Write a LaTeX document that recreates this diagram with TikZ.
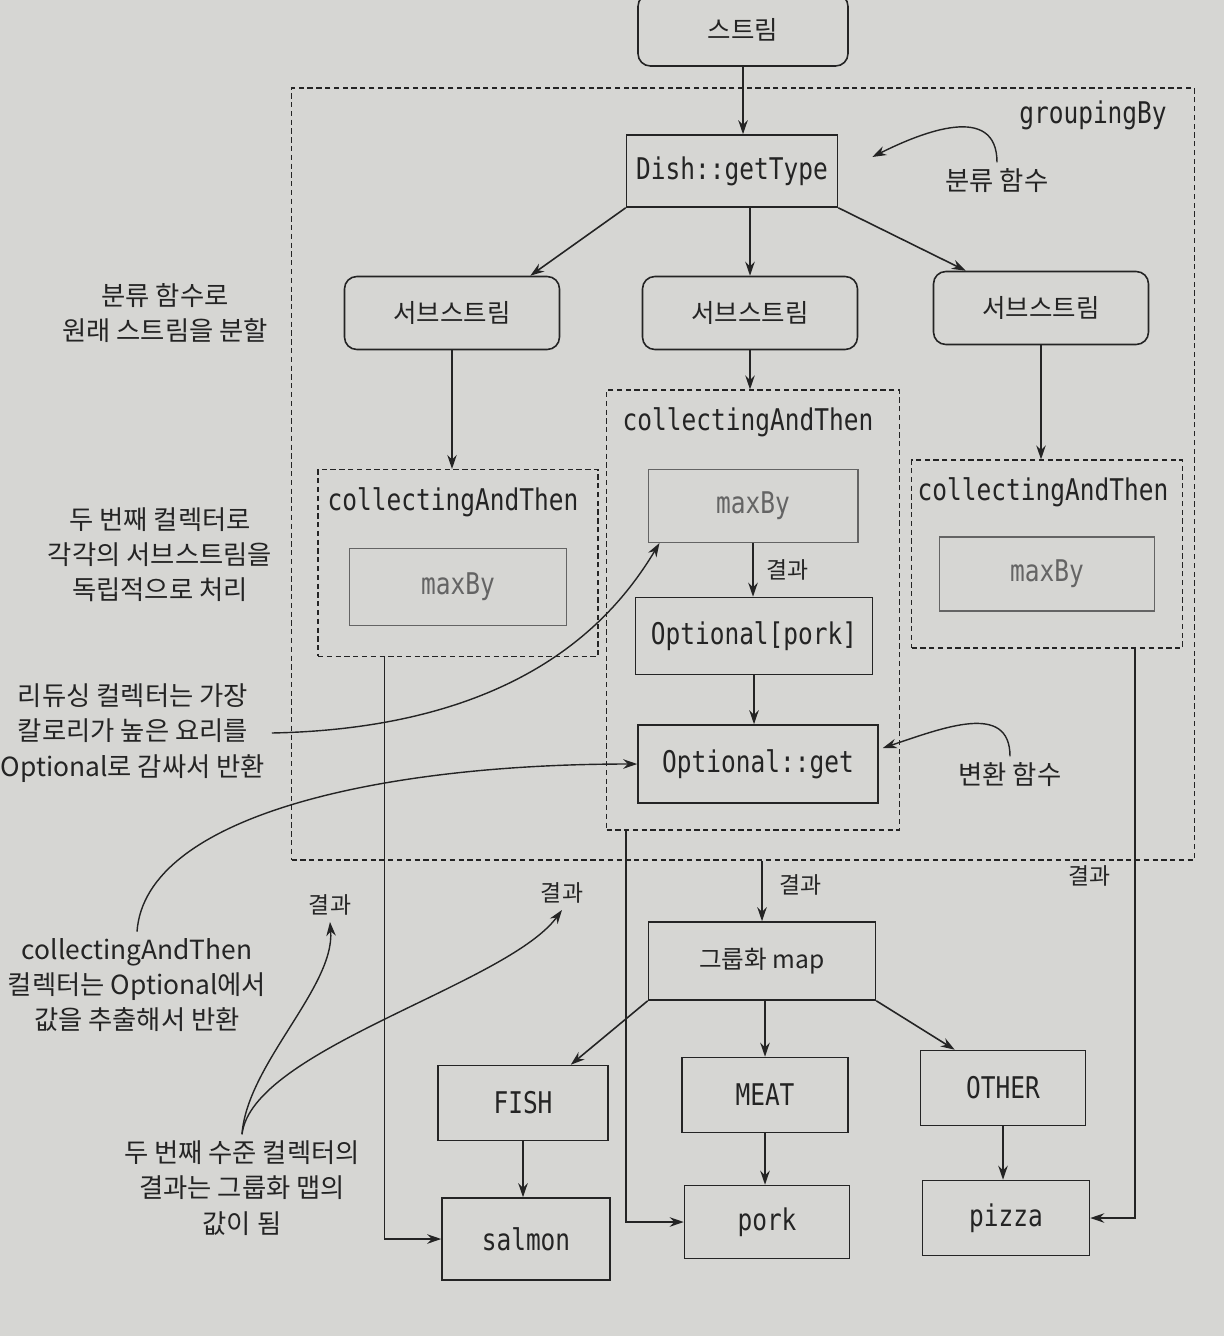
\documentclass[tikz,border=0pt]{standalone}
\usepackage{fontspec}
\setmainfont{Noto Sans CJK KR}
\newfontfamily\codefont[FakeStretch=0.82]{DejaVu Sans Mono}
\usetikzlibrary{positioning,arrows.meta}

\definecolor{paper}{RGB}{214,214,211}
\definecolor{ink}{RGB}{36,36,36}
\definecolor{faded}{RGB}{100,100,100}

\begin{document}
\begin{tikzpicture}[
  x=0.02cm, y=-0.02cm, line width=.9pt, color=ink,
  >={Stealth[length=2.8mm, width=1.9mm]},
  stream/.style={
    draw, rounded corners=7pt, minimum width=4.3cm, minimum height=1.46cm,
    font=\fontsize{14.5}{17}\selectfont},
  codebox/.style={draw, minimum height=1.5cm, font=\codefont\fontsize{17}{20}\selectfont},
  wordbox/.style={draw, minimum height=1.5cm, font=\fontsize{14}{17}\selectfont},
  reducer/.style={
    draw=faded, line width=.6pt, text=faded, minimum width=4.3cm, minimum height=1.5cm,
    font=\codefont\fontsize{17}{20}\selectfont},
  group/.style={draw, dash pattern=on 3pt off 2pt, line width=.7pt},
  grouptitle/.style={font=\codefont\fontsize{17}{20}\selectfont, inner sep=0pt},
  note/.style={align=center, font=\fontsize{15}{20}\selectfont},
  result/.style={font=\fontsize{13}{15}\selectfont},
  pointer/.style={->, line width=.8pt}
]

  \fill[paper] (0,0) rectangle (1224,1336);
  \useasboundingbox (0,0) rectangle (1224,1336);

  % the groupingBy collector
  \node[group, minimum width=18.06cm, minimum height=15.44cm] (grouping) at (743,474) {};
  \node[grouptitle] (grouping-title) at (1093,115) {groupingBy};

  \node[stream, minimum width=4.2cm, minimum height=1.44cm] (stream) at (743,30) {스트림};
  \node[codebox, minimum width=4.22cm, minimum height=1.44cm] (get-type) at (732,171) {Dish::getType};

  \node[stream] (sub-l) at (452,313) {서브스트림};
  \node[stream] (sub-m) at (750,313) {서브스트림};
  \node[stream] (sub-r) at (1041,308) {서브스트림};

  % second level collectors
  \node[group, minimum width=5.6cm, minimum height=3.74cm] (cat-l) at (458,563) {};
  \node[grouptitle] (cat-l-title) at (453,502) {collectingAndThen};
  \node[reducer, minimum width=4.34cm, minimum height=1.54cm] (maxby-l) at (458,587) {maxBy};

  \node[group, minimum width=5.86cm, minimum height=8.8cm] (cat-m) at (753,610) {};
  \node[grouptitle] (cat-m-title) at (748,422) {collectingAndThen};
  \node[reducer, minimum width=4.2cm, minimum height=1.46cm] (maxby-m) at (753,506) {maxBy};
  \node[codebox, minimum width=4.74cm, minimum height=1.54cm] (opt-pork) at (754,636) {Optional[pork]};
  \node[codebox, minimum width=4.8cm, minimum height=1.56cm] (opt-get) at (758,764) {Optional::get};

  \node[group, minimum width=5.42cm, minimum height=3.76cm] (cat-r) at (1047,554) {};
  \node[grouptitle] (cat-r-title) at (1043,492) {collectingAndThen};
  \node[reducer, minimum height=1.48cm] (maxby-r) at (1047,574) {maxBy};

  % the resulting map
  \node[wordbox, minimum width=4.54cm, minimum height=1.56cm] (map) at (762,961) {그룹화 map};
  \node[codebox, minimum width=3.4cm] (fish) at (523,1103) {FISH};
  \node[codebox, minimum width=3.32cm] (meat) at (765,1095) {MEAT};
  \node[codebox, minimum width=3.3cm] (other) at (1003,1088) {OTHER};
  \node[codebox, minimum width=3.36cm, minimum height=1.64cm] (salmon) at (526,1239) {salmon};
  \node[codebox, minimum width=3.3cm, minimum height=1.46cm] (pork) at (767,1222) {pork};
  \node[codebox, minimum width=3.34cm] (pizza) at (1006,1218) {pizza};

  % notes
  \node[note] (note-split) at (165,313) {분류 함수로\\원래 스트림을 분할};
  \node[note] (note-second) at (160,555) {두 번째 컬렉터로\\각각의 서브스트림을\\독립적으로 처리};
  \node[note] (note-reduce) at (133,733) {리듀싱 컬렉터는 가장\\칼로리가 높은 요리를\\Optional로 감싸서 반환};
  \node[note] (note-finish) at (137,985) {collectingAndThen\\컬렉터는 Optional에서\\값을 추출해서 반환};
  \node[note] (note-value) at (242,1188) {두 번째 수준 컬렉터의\\결과는 그룹화 맵의\\값이 됨};
  \node[note] (class-fn) at (997,181) {분류 함수};
  \node[note] (conv-fn) at (1010,775) {변환 함수};
  \node[result] (result-a) at (330,905) {결과};
  \node[result] (result-b) at (562,893) {결과};

  \draw[->] (stream.south) -- (stream.south |- get-type.north);
  \draw[->] (get-type.south west) -- ([xshift=-.6cm]sub-l.north east);
  \draw[->] (sub-m.north |- get-type.south) -- (sub-m.north);
  \draw[->] (get-type.south east) -- ([xshift=.66cm]sub-r.north west);

  \foreach \s in {l,m,r}
  \draw[->] (sub-\s.south) -- (sub-\s.south |- cat-\s.north);

  \draw[->] (maxby-m.south) -- (maxby-m.south |- opt-pork.north)
    node[midway, right=4pt, result] {결과};
  \draw[->] (opt-pork.south) -- (opt-pork.south |- opt-get.north);

  \draw[->] (map.north |- grouping.south) -- (map.north)
    node[pos=.4, right=6pt, result] {결과};
  \draw[->] (map.south west) -- ([xshift=-.76cm]fish.north east);
  \draw[->] (meat.north |- map.south) -- (meat.north);
  \draw[->] (map.south east) -- ([xshift=.7cm]other.north west);

  \foreach \a/\b in {fish/salmon, meat/pork, other/pizza}
  \draw[->] (\a.south) -- (\a.south |- \b.north);

  \draw[->] ([xshift=1.34cm]cat-l.south west) |- (salmon.west);
  \draw[->] ([xshift=.4cm]cat-m.south west) |- (pork.west);
  \draw[->] ([xshift=-.96cm]cat-r.south east) |- (pizza.east)
    node[pos=.2, left=10pt, result] {결과};

  \draw[pointer] (class-fn.north) .. controls +(0,-60) and +(50,-25) .. ([xshift=.68cm,yshift=.28cm]get-type.east);
  \draw[pointer] (conv-fn.north) .. controls +(0,-55) and +(60,-20) .. ([xshift=.08cm,yshift=.32cm]opt-get.east);
  \draw[pointer] (note-reduce.east) .. controls +(250,-5) and +(-45,75) .. ([xshift=.24cm]maxby-m.south west);
  \draw[pointer] (note-finish.north) .. controls +(8,-115) and +(-260,0) .. (opt-get.west);
  \draw[pointer] (note-value.north) .. controls +(5,-70) and +(5,65) .. (result-a.south);
  \draw[pointer] (note-value.north) .. controls +(10,-85) and +(-55,75) .. (result-b.south);

\end{tikzpicture}
\end{document}
